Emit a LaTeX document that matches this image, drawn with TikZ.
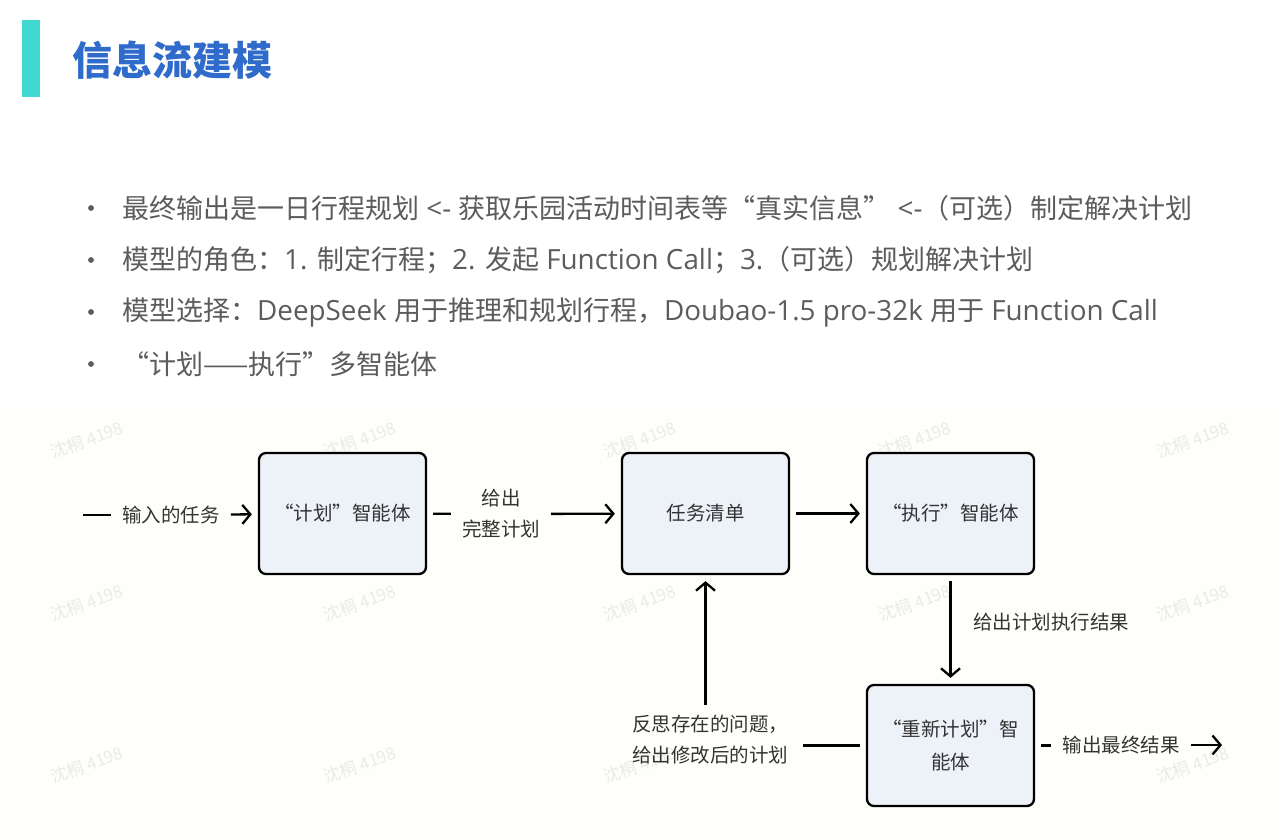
\documentclass[tikz,border=0pt]{standalone}
\usepackage{fontspec}
\setmainfont{Noto Sans CJK SC}
\newfontfamily\latin[Scale=1.03]{Open Sans}
\usetikzlibrary{arrows.meta}

\definecolor{accent}{RGB}{64,217,207}
\definecolor{titleblue}{RGB}{47,107,203}
\definecolor{bullettext}{RGB}{92,92,92}
\definecolor{boxfill}{RGB}{237,241,248}
\definecolor{labeltext}{RGB}{51,51,51}
\definecolor{paper}{RGB}{254,254,250}
\definecolor{wmgray}{RGB}{234,234,230}

\newcommand{\lt}[1]{{\latin #1}}

\tikzset{
  bullet/.style={anchor=west, inner sep=0pt, text=bullettext,
    font=\fontsize{27}{30}\selectfont},
  agent/.style={draw=black, line width=2.3pt, rounded corners=7pt, fill=boxfill,
    minimum width=167pt, minimum height=121pt, text=labeltext, align=center,
    font=\fontsize{19.5}{33}\selectfont},
  flowlabel/.style={text=labeltext, inner xsep=11pt, inner ysep=4pt,
    font=\fontsize{19.5}{31}\selectfont},
  flow/.style={line width=2.3pt, shorten <=6pt},
  flowarrow/.style={flow, shorten >=6pt,
    -{Straight Barb[length=8pt,width=19pt,line width=2.3pt]}},
  watermark/.style={text=wmgray, rotate=20, font=\fontsize{17}{20}\selectfont}
}

\begin{document}
\begin{tikzpicture}[x=1pt, y=-1pt]
  \useasboundingbox (0,0) rectangle (1272,840);
  \fill[white] (0,0) rectangle (1272,840);
  \fill[paper] (0,405) rectangle (1272,840);

  % watermark grid
  \foreach \wx in {87,360,640,915,1193}
    \foreach \wy in {440,603,765}
      \node[watermark] at (\wx,\wy) {沈桐 4198};

  % heading
  \fill[accent] (22,20) rectangle (40,97);
  \node[anchor=west, inner sep=0pt, text=titleblue,
        font=\fontsize{40}{44}\selectfont\bfseries] (title) at (72,60) {信息流建模};

  % bullet list
  \foreach \by in {208,260,312,364}
    \fill[bullettext] (91,\by) circle (2.9pt);
  \node[bullet] (p1) at (122,208) {最终输出是一日行程规划\lt{ <- }获取乐园活动时间表等“真实信息”\lt{ <-}（可选）制定解决计划};
  \node[bullet] (p2) at (122,260) {模型的角色：\lt{1. }制定行程；\lt{2. }发起\lt{ Function Call}；\lt{3.}（可选）规划解决计划};
  \node[bullet] (p3) at (122,312) {模型选择：\lt{DeepSeek }用于推理和规划行程，\lt{Doubao-1.5 pro-32k }用于\lt{ Function Call}};
  \node[bullet] (p4) at (122,364) {“计划——执行”多智能体};

  % agents
  \node[agent] (plan)   at (342.5,513.5) {“计划”智能体};
  \node[agent] (tasks)  at (705.5,513.5) {任务清单};
  \node[agent] (exec)   at (950.5,513.5) {“执行”智能体};
  \node[agent] (replan) at (950.5,745.5) {“重新计划”智\\能体};

  % connector labels
  \coordinate (in)  at (83,515);
  \coordinate (out) at (1222,745);
  \node[flowlabel] (lin)  at (171,515) {输入的任务};
  \node[flowlabel, align=center] (lplan) at (501,514) {给出\\完整计划};
  \node[flowlabel, anchor=west, inner xsep=0pt] (lres) at (973,622) {给出计划执行结果};
  \node[flowlabel, align=left, inner ysep=10pt] (lfix) at (710,740) {反思存在的问题，\\给出修改后的计划};
  \node[flowlabel] (lout) at (1121,745) {输出最终结果};

  % connectors
  \draw[line width=2.3pt] (in) -- (lin);
  \draw[flowarrow, shorten <=0pt] (lin) -- (plan);
  \draw[flow] (plan) -- (lplan);
  \draw[flowarrow, shorten <=0pt] (lplan) -- (tasks);
  \draw[flowarrow] (tasks) -- (exec);
  \draw[flowarrow] (exec) -- (replan);
  \draw[flow, shorten >=4pt] (replan.west) -- (replan.west -| lfix.east);
  \draw[flowarrow, shorten <=0pt] (lfix.north -| tasks.south) -- (tasks.south);
  \draw[flow] (replan.east) -- (replan.east -| lout.west);
  \draw[line width=2.3pt, shorten >=0pt,
        -{Straight Barb[length=8pt,width=19pt,line width=2.3pt]}] (lout) -- (out);
\end{tikzpicture}
\end{document}
